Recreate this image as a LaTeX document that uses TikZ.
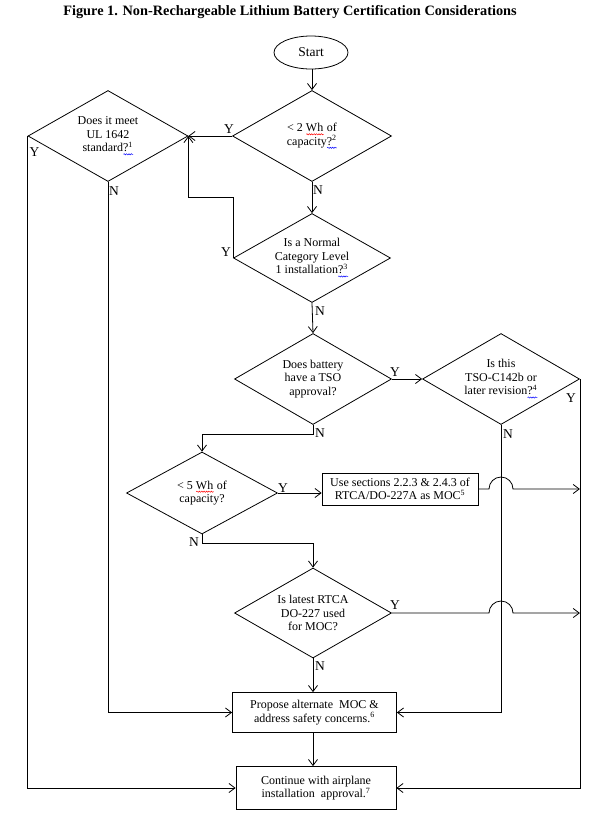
\documentclass[tikz,border=0pt]{standalone}
\usepackage{fontspec}
\setmainfont{Liberation Serif}
\usetikzlibrary{shapes.geometric,arrows.meta,decorations.pathmorphing}
\newlength\wvlen
\newcommand\wv[2]{\settowidth\wvlen{#2}\rlap{#2}\tikz[baseline=0pt]{\draw[#1, line width=0.5pt, decorate, decoration={snake,amplitude=0.6pt,segment length=2.4pt}] (0pt,-2.5pt) -- (\wvlen,-2.5pt);}}
\tikzset{
  txt/.style={font=\fontsize{12}{13.5}\selectfont, align=center},
  dec/.style={txt, diamond, draw, inner sep=0pt, aspect=1.75, line width=0.8pt},
  box/.style={txt, rectangle, draw, inner sep=0pt, line width=0.8pt},
  startnode/.style={font=\fontsize{13.5}{15}\selectfont, ellipse, draw, inner sep=0pt, minimum width=74pt, minimum height=33pt, line width=0.8pt},
  lbl/.style={font=\fontsize{13.5}{14}\selectfont, inner sep=0pt},
  conn/.style={line width=0.8pt},
  arr/.style={conn, -{Straight Barb[length=6pt,width=9pt]}},
  ttl/.style={font=\fontsize{14.3}{16}\selectfont\bfseries, inner sep=0pt}
}
\begin{document}
\begin{tikzpicture}[x=1pt,y=1pt]
\useasboundingbox (0,0) rectangle (605,-817);
\fill[white] (0,0) rectangle (605,-817);

\node[ttl] (title) at (290,-12) {Figure 1. Non-Rechargeable Lithium Battery Certification Considerations};

\node[startnode] (start) at (311,-52.5) {Start};
\node[dec, minimum width=159pt, minimum height=91pt] (d1) at (312,-136) {< 2 \wv{red}{Wh} of\\capacity\wv{blue}{?\textsuperscript{2}}};
\node[dec, minimum width=160pt, minimum height=91pt] (d0) at (108,-136) {Does it meet\\UL 1642\\standard\wv{blue}{?\textsuperscript{1}}};
\node[dec, minimum width=157pt, minimum height=89pt] (d2) at (312,-258) {Is a Normal\\Category Level\\1 installation\wv{blue}{?\textsuperscript{3}}};
\node[dec, minimum width=157pt, minimum height=91pt] (d3) at (313,-379) {Does battery\\have a TSO\\approval?};
\node[dec, minimum width=157pt, minimum height=91pt] (d4) at (501,-379) {Is this\\TSO-C142b or\\later revision\wv{blue}{?\textsuperscript{4}}};
\node[dec, minimum width=151pt, minimum height=82pt] (d5) at (202,-493) {< 5 \wv{red}{Wh} of\\capacity?};
\node[box, minimum width=156pt, minimum height=32pt] (b1) at (400,-489) {Use sections 2.2.3 \& 2.4.3 of\\RTCA/DO-227A as MOC\textsuperscript{5}};
\node[dec, minimum width=157pt, minimum height=90pt] (d6) at (313,-613) {Is latest RTCA\\DO-227 used\\for MOC?};
\node[box, minimum width=164pt, minimum height=40pt] (b2) at (314.5,-712.5) {Propose alternate\hspace{3pt} MOC \&\\address safety concerns.\textsuperscript{6}};
\node[box, minimum width=160pt, minimum height=43pt] (b3) at (316,-788) {Continue with airplane\\installation\hspace{3pt} approval.\textsuperscript{7}};

% connectors
\draw[arr] (start.south -| d1.north) -- (d1.north);
\draw[arr] (d1.west) -- (d0.east);
\draw[arr] (d1.south) -- (d2.north);
\draw[arr] (d2.west) -- ++(0,61) -| (d0.east);
\draw[arr] (d2.south) -- (d3.north);
\draw[arr] (d3.east) -- (d4.west);
\draw[arr] (d3.south) -- ++(0,-9) -| (d5.north);
\draw[arr] (d4.east) |- (b3.east);
\draw[arr] (d4.south) |- (b2.east);
\draw[arr] (d5.east) -- (d5.east -| b1.west);
\draw[arr] (b1.east) -- ([xshift=-12pt]d4.south |- b1.east) arc[start angle=180, end angle=0, radius=12pt] -- (d4.east |- b1.east);
\draw[arr] (d5.south) -- ++(0,-9) -| (d6.north);
\draw[arr] (d6.east) -- ([xshift=-12pt]d4.south |- d6.east) arc[start angle=180, end angle=0, radius=12pt] -- (d4.east |- d6.east);
\draw[arr] (d6.south) -- (d6.south |- b2.north);
\draw[arr] (d0.south) |- (b2.west);
\draw[arr] (d0.west) |- (b3.west);
\draw[arr] (b2.south -| d6.south) -- (d6.south |- b3.north);

% labels
\node[lbl] (y1) at ([shift={(-3,7)}]d1.west) {Y};
\node[lbl] (y0) at ([shift={(7,-16)}]d0.west) {Y};
\node[lbl] (n0) at ([shift={(6,-9)}]d0.south) {N};
\node[lbl] (n1) at ([shift={(6,-8)}]d1.south) {N};
\node[lbl] (y2) at ([shift={(-7,6)}]d2.west) {Y};
\node[lbl] (n2) at ([shift={(8,-8)}]d2.south) {N};
\node[lbl] (y3) at ([shift={(3,7)}]d3.east) {Y};
\node[lbl] (n3) at ([shift={(7,-8)}]d3.south) {N};
\node[lbl] (y4) at ([shift={(-9,-19)}]d4.east) {Y};
\node[lbl] (n4) at ([shift={(7,-9)}]d4.south) {N};
\node[lbl] (y5) at ([shift={(5,5)}]d5.east) {Y};
\node[lbl] (n5) at ([shift={(-8,-8)}]d5.south) {N};
\node[lbl] (y6) at ([shift={(3,8)}]d6.east) {Y};
\node[lbl] (n6) at ([shift={(7,-8)}]d6.south) {N};
\end{tikzpicture}
\end{document}
